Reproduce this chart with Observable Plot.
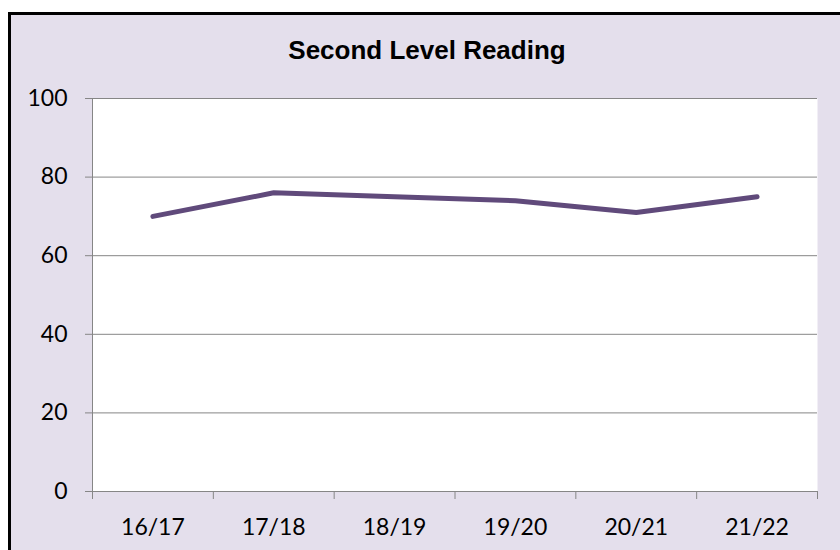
<!DOCTYPE html>
<html>
<head>
<meta charset="utf-8">
<script src="https://cdn.jsdelivr.net/npm/d3@7"></script>
<script src="https://cdn.jsdelivr.net/npm/@observablehq/plot@0.6"></script>
<style>
  html, body { margin: 0; padding: 0; background: #ffffff; }
  #wrap { position: relative; width: 840px; height: 550px; overflow: hidden; background: #ffffff; }
  #panel { position: absolute; left: 8px; top: 12px; width: 900px; height: 600px;
           border-left: 3px solid #000; border-top: 3px solid #000; background: #E4DFEC; }
  #title { position: absolute; left: 0; top: 37px; width: 854px; text-align: center;
           font: bold 26px "Liberation Sans", Arial, sans-serif; line-height: 26px; color: #000; }
  #chart { position: absolute; left: 0; top: 0; }
</style>
</head>
<body>
<div id="wrap">
  <div id="panel"></div>
  <div id="title">Second Level Reading</div>
  <div id="chart"></div>
</div>
<script>
const categories = ["16/17", "17/18", "18/19", "19/20", "20/21", "21/22"];
const values = [70, 76, 75, 74, 71, 75];
const yTicks = [0, 20, 40, 60, 80, 100];

const data = categories.map((c, i) => ({i, label: c, value: values[i]}));
const boundaries = d3.range(categories.length + 1).map(k => k - 0.5);
const gray = "#868686";

const plot = Plot.plot({
  width: 840,
  height: 550,
  marginLeft: 92,
  marginRight: 23,
  marginTop: 98,
  marginBottom: 59,
  style: {background: "transparent", fontFamily: "Lato, sans-serif", fontSize: "23px", color: "#000", overflow: "visible"},
  x: {domain: [-0.5, categories.length - 0.5], axis: null},
  y: {domain: [0, 100], axis: null},
  marks: [
    Plot.frame({fill: "white", stroke: "none"}),
    Plot.gridY(yTicks, {stroke: gray, strokeOpacity: 1}),
    Plot.ruleX([-0.5], {stroke: gray}),
    Plot.ruleY([0], {stroke: gray}),
    Plot.axisY({ticks: yTicks, label: null, tickSize: 7, tickPadding: 18, stroke: gray, fill: "#000", fontSize: 23, tickFormat: d => String(d)}),
    Plot.axisX({ticks: boundaries, label: null, tickSize: 8, stroke: gray, tickFormat: () => ""}),
    Plot.axisX({ticks: data.map(d => d.i), label: null, tickSize: 0, tickPadding: 27, fill: "#000", fontSize: 23, tickFormat: i => categories[i]}),
    Plot.line(data, {x: "i", y: "value", stroke: "#604A7B", strokeWidth: 5, strokeLinecap: "round", strokeLinejoin: "round"})
  ]
});
document.getElementById("chart").appendChild(plot);
</script>
</body>
</html>
